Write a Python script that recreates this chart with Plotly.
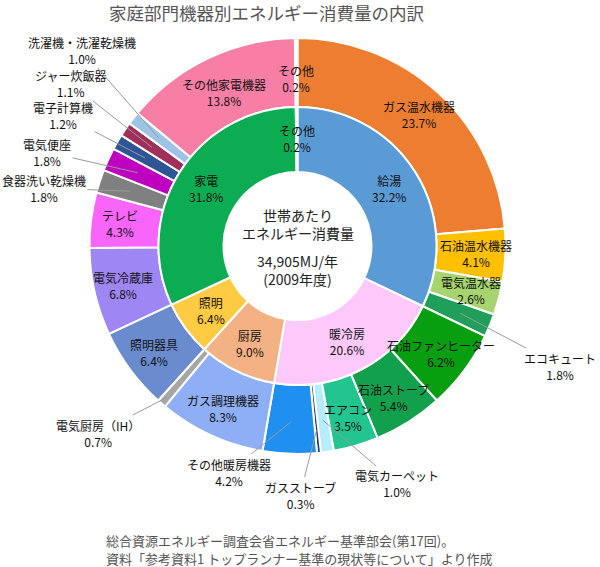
import math
import plotly.graph_objects as go

# ---------------- data ----------------
cat_labels = ["給湯", "暖冷房", "厨房", "照明", "家電", "その他"]
cat_values = [32.2, 20.6, 9.0, 6.4, 31.8, 0.2]

dev_labels = ["ガス温水機器", "石油温水機器", "電気温水器", "エコキュート",
              "石油ファンヒーター", "石油ストーブ", "エアコン", "電気カーペット",
              "ガスストーブ", "その他暖房機器", "ガス調理機器", "電気厨房（IH）",
              "照明器具", "電気冷蔵庫", "テレビ", "食器洗い乾燥機", "電気便座",
              "電子計算機", "ジャー炊飯器", "洗濯機・洗濯乾燥機", "その他家電機器", "その他"]
dev_values = [23.7, 4.1, 2.6, 1.8,
              6.2, 5.4, 3.5, 1.0,
              0.3, 4.2, 8.3, 0.7,
              6.4, 6.8, 4.3, 1.8, 1.8,
              1.2, 1.1, 1.0, 13.8, 0.2]

title_text = "家庭部門機器別エネルギー消費量の内訳"
center_top = "世帯あたり<br>エネルギー消費量"
center_bottom = "34,905MJ/年<br>(2009年度)"
footer_lines = ["総合資源エネルギー調査会省エネルギー基準部会(第17回)。",
                "資料「参考資料1 トップランナー基準の現状等について」より作成"]

# ---------------- styles ----------------
cat_colors = ["#5b9bd5", "#fdc9fb", "#f4b183", "#ffcb42", "#0cad52", "#ffffff"]
dev_colors = ["#ed7d31", "#ffc000", "#a6d46e", "#1f9f5a",
              "#079e10", "#12a04c", "#22c58f", "#b5eefa",
              "#203864", "#1f8ff0", "#8eaef5", "#a6a6a6",
              "#6a8ccf", "#9f86f5", "#f865f8", "#808080", "#c000c0",
              "#2f5597", "#a0305a", "#9dc3e6", "#f77fa5", "#ffffff"]

W, H = 600, 567
CX, CY = 297.5, 246.0
R_OUT, R_MID, R_HOLE = 208.0, 139.0, 74.0
FONT = "Noto Sans CJK JP"


def fx(px):
    return px / W


def fy(py):
    return 1 - py / H


def mid_angles(values):
    tot = sum(values)
    out, cum = [], 0.0
    for v in values:
        out.append(2 * math.pi * (cum + v / 2) / tot)
        cum += v
    return out


def polar(theta, r):
    return CX + r * math.sin(theta), CY - r * math.cos(theta)


fig = go.Figure()

fig.add_trace(go.Pie(
    labels=dev_labels, values=dev_values, sort=False, direction="clockwise",
    rotation=0, hole=R_MID / R_OUT,
    marker=dict(colors=dev_colors, line=dict(color="white", width=2)),
    textinfo="none", showlegend=False,
    domain=dict(x=[fx(CX - R_OUT), fx(CX + R_OUT)], y=[fy(CY + R_OUT), fy(CY - R_OUT)]),
))
fig.add_trace(go.Pie(
    labels=cat_labels, values=cat_values, sort=False, direction="clockwise",
    rotation=0, hole=R_HOLE / R_MID,
    marker=dict(colors=cat_colors, line=dict(color="white", width=2)),
    textinfo="none", showlegend=False,
    domain=dict(x=[fx(CX - R_MID), fx(CX + R_MID)], y=[fy(CY + R_MID), fy(CY - R_MID)]),
))

annotations = []
lab_font = dict(family=FONT, size=12, color="#111111")

# inner ring labels
for lab, val, th in zip(cat_labels, cat_values, mid_angles(cat_values)):
    px, py = polar(th, 108)
    annotations.append(dict(x=fx(px), y=fy(py), xref="paper", yref="paper",
                            text=f"{lab}<br>{val:.1f}%", showarrow=False,
                            font=lab_font, xanchor="center", yanchor="middle"))

# outer ring labels: outside ones with leader lines
outside_pos = {
    "エコキュート": (560, 366),
    "電気カーペット": (397, 484),
    "ガスストーブ": (300, 495),
    "その他暖房機器": (229, 472),
    "電気厨房（IH）": (98, 433),
    "食器洗い乾燥機": (44, 188),
    "電気便座": (47, 152),
    "電子計算機": (63, 115),
    "ジャー炊飯器": (70, 83),
    "洗濯機・洗濯乾燥機": (82, 50),
}
leader_r = {"電気厨房（IH）": 200, "ガスストーブ": 185}
inside_r = {"その他家電機器": 170, "その他": 168}

for lab, val, th in zip(dev_labels, dev_values, mid_angles(dev_values)):
    txt = f"{lab}<br>{val:.1f}%"
    if lab in outside_pos:
        tx, ty = outside_pos[lab]
        px, py = polar(th, leader_r.get(lab, 176))
        annotations.append(dict(x=fx(px), y=fy(py), xref="paper", yref="paper",
                                text=txt, showarrow=True, arrowhead=0, arrowwidth=1,
                                arrowcolor="#9a9a9a", standoff=0,
                                ax=tx - px, ay=ty - py, font=lab_font))
    else:
        px, py = polar(th, inside_r.get(lab, 179))
        annotations.append(dict(x=fx(px), y=fy(py), xref="paper", yref="paper",
                                text=txt, showarrow=False, font=lab_font,
                                xanchor="center", yanchor="middle"))

# centre text
ctr_font = dict(family=FONT, size=14, color="#222222")
annotations.append(dict(x=fx(CX), y=fy(224), xref="paper", yref="paper", text=center_top,
                        showarrow=False, font=ctr_font, xanchor="center", yanchor="middle"))
annotations.append(dict(x=fx(CX), y=fy(270), xref="paper", yref="paper", text=center_bottom,
                        showarrow=False, font=ctr_font, xanchor="center", yanchor="middle"))

# title & footer
annotations.append(dict(x=fx(266), y=fy(12), xref="paper", yref="paper", text=title_text,
                        showarrow=False, font=dict(family=FONT, size=17.5, color="#555555"),
                        xanchor="center", yanchor="middle"))
for line, ly in zip(footer_lines, [540, 558]):
    annotations.append(dict(x=fx(104), y=fy(ly), xref="paper", yref="paper", text=line,
                            showarrow=False, align="left",
                            font=dict(family=FONT, size=13, color="#555555"),
                            xanchor="left", yanchor="middle"))

fig.update_layout(width=W, height=H, margin=dict(l=0, r=0, t=0, b=0),
                  paper_bgcolor="white", plot_bgcolor="white",
                  annotations=annotations, font=dict(family=FONT))

fig.write_html("out.html", config={"displayModeBar": False},
               post_script="document.body.style.margin='0';document.body.style.overflow='hidden';")
